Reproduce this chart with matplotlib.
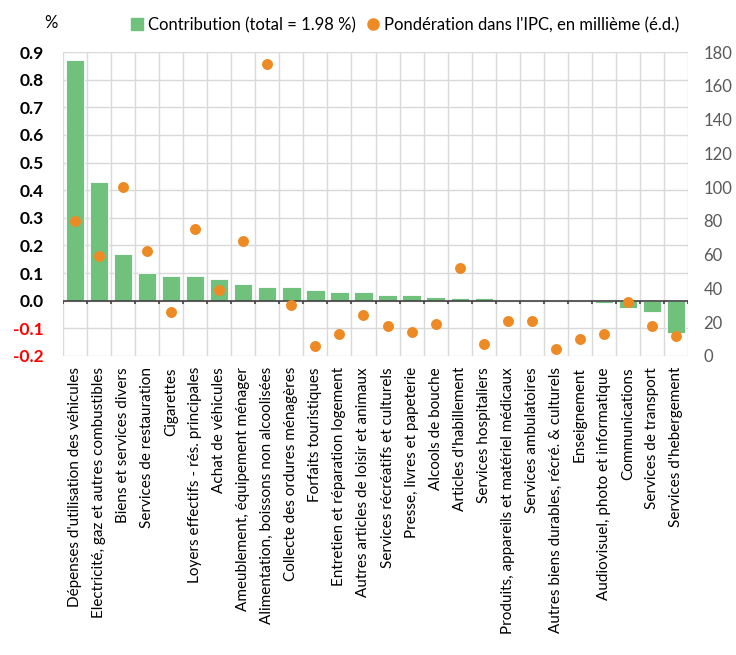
import matplotlib
matplotlib.use("Agg")
import matplotlib.pyplot as plt
from matplotlib.lines import Line2D
import numpy as np

categories = [
    "Dépenses d'utilisation des véhicules",
    "Electricité, gaz et autres combustibles",
    "Biens et services divers",
    "Services de restauration",
    "Cigarettes",
    "Loyers effectifs - rés. principales",
    "Achat de véhicules",
    "Ameublement, équipement ménager",
    "Alimentation, boissons non alcoolisées",
    "Collecte des ordures ménagères",
    "Forfaits touristiques",
    "Entretien et réparation logement",
    "Autres articles de loisir et animaux",
    "Services récréatifs et culturels",
    "Presse, livres et papeterie",
    "Alcools de bouche",
    "Articles d'habillement",
    "Services hospitaliers",
    "Produits, appareils et matériel médicaux",
    "Services ambulatoires",
    "Autres biens durables, récré. & culturels",
    "Enseignement",
    "Audiovisuel, photo et informatique",
    "Communications",
    "Services de transport",
    "Services d'hebergement",
]

contribution = [0.87, 0.43, 0.17, 0.10, 0.09, 0.09, 0.08, 0.06, 0.05, 0.05,
                0.04, 0.03, 0.03, 0.02, 0.02, 0.012, 0.01, 0.01, 0.0, 0.0,
                0.0, 0.0, -0.007, -0.025, -0.039, -0.117]

ponderation = [80, 59, 100, 62, 26, 75, 39, 68, 173, 30,
               6, 13, 24, 18, 14, 19, 52, 7, 21, 21,
               4, 10, 13, 32, 18, 12]

left_ticks = [-0.2, -0.1, 0.0, 0.1, 0.2, 0.3, 0.4, 0.5, 0.6, 0.7, 0.8, 0.9]
right_ticks = [0, 20, 40, 60, 80, 100, 120, 140, 160, 180]

green = "#6FC17B"
orange = "#EE8A24"
font = "Lato"

plt.rcParams["font.family"] = [font, "DejaVu Sans"]

fig = plt.figure(figsize=(7.36, 6.55), dpi=100)
ax = fig.add_axes([0.0856, 0.4565, 0.8492, 0.4641])
x = np.arange(len(categories))

ax.bar(x, contribution, width=0.76, color=green, edgecolor="white",
       linewidth=0.6, zorder=2)
ax.set_xlim(-0.5, len(categories) - 0.5)
ax.set_ylim(-0.2, 0.9)
ax.set_yticks(left_ticks)
ax.set_yticklabels([f"{t:.1f}" for t in left_ticks], fontsize=12.5,
                   fontweight="bold")
for lab, t in zip(ax.get_yticklabels(), left_ticks):
    lab.set_color("#FF0000" if t < 0 else "black")
ax.tick_params(axis="y", length=0, pad=14)

ax.grid(axis="y", color="#D9D9D9", linewidth=1, zorder=0)
bounds = np.arange(-0.5, len(categories), 1.0)
for b in bounds:
    ax.axvline(b, color="#D9D9D9", linewidth=1, zorder=0)
for s in ax.spines.values():
    s.set_visible(False)

# zero line with small ticks between categories
ax.axhline(0, color="#404040", linewidth=1.2, zorder=3)
ax.vlines(bounds, -0.012, 0, color="#404040", linewidth=1.2, zorder=3)

ax.set_xticks(x)
ax.set_xticklabels(categories, rotation=90, fontsize=11, ha="center",
                   va="top")
ax.tick_params(axis="x", length=0, pad=8)

ax2 = ax.twinx()
ax2.scatter(x, ponderation, s=62, color=orange, zorder=4, linewidths=0)
ax2.set_ylim(0, 180)
ax2.set_yticks(right_ticks)
ax2.set_yticklabels([str(t) for t in right_ticks], fontsize=12,
                    color="#595959")
ax2.tick_params(axis="y", length=0, pad=11)
for s in ax2.spines.values():
    s.set_visible(False)

fig.text(0.069, 0.965, "%", fontsize=12, ha="center", va="center")

handles = [
    Line2D([], [], marker="s", linestyle="none", color=green, markersize=9),
    Line2D([], [], marker="o", linestyle="none", color=orange, markersize=8),
]
fig.legend(handles, ["Contribution (total = 1.98 %)",
                     "Pondération dans l'IPC, en millième (é.d.)"],
           loc="center", bbox_to_anchor=(0.55, 0.962), ncol=2, frameon=False,
           fontsize=12, handlelength=0.8, handletextpad=0.3,
           columnspacing=0.6)

fig.savefig("out.png", dpi=100)
